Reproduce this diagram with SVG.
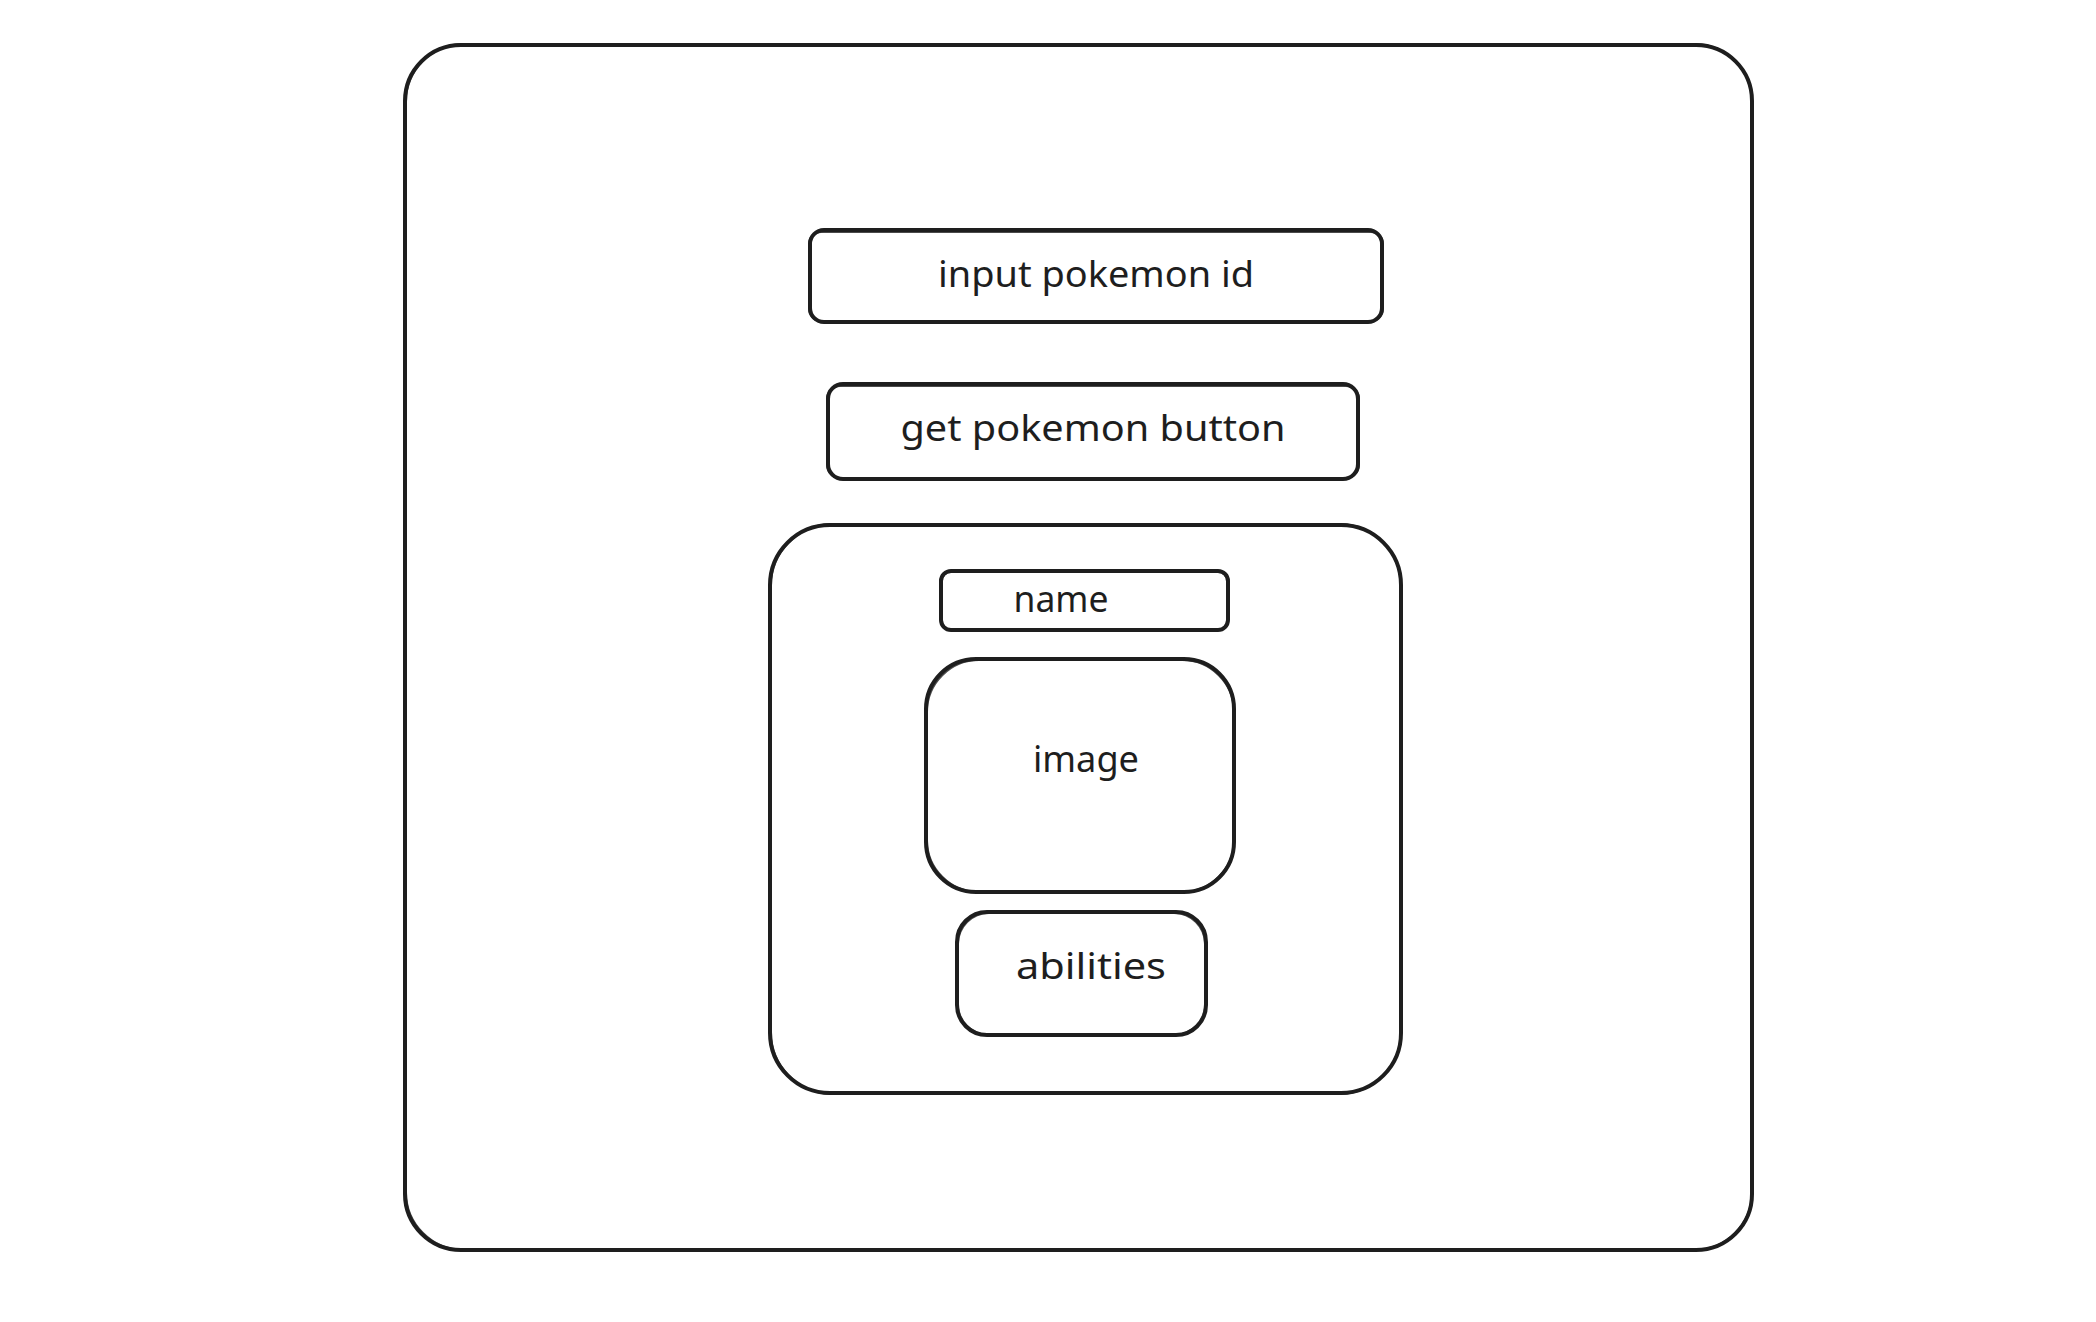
<svg xmlns="http://www.w3.org/2000/svg" width="2096" height="1322" viewBox="0 0 2096 1322">
<style>
.box{fill:none;stroke:#1e1e1e;stroke-width:4;stroke-linejoin:round}
.sk{fill:none;stroke:#1e1e1e;stroke-width:2;opacity:0.8}
.lbl{font-family:"Noto Sans","Liberation Sans",sans-serif;font-size:36px;fill:#1e1e1e;text-anchor:middle}
</style>
<rect width="2096" height="1322" fill="#ffffff"/>
<g id="outer">
<rect class="box" x="405" y="45" width="1347" height="1205" rx="56"/>
<rect class="sk" x="406" y="44" width="1346" height="1206" rx="58"/>
</g>
<g id="input-pokemon-id">
<rect class="box" x="810" y="230" width="572" height="92" rx="14"/>
<rect class="sk" x="809" y="232" width="574" height="89" rx="12"/>
<text class="lbl" x="1096" y="287" textLength="316" lengthAdjust="spacingAndGlyphs">input pokemon id</text>
</g>
<g id="get-pokemon-button">
<rect class="box" x="828" y="384" width="530" height="95" rx="15"/>
<rect class="sk" x="827" y="386" width="532" height="92" rx="13"/>
<text class="lbl" x="1093" y="441" textLength="385" lengthAdjust="spacingAndGlyphs">get pokemon button</text>
</g>
<g id="pokemon-card">
<rect class="box" x="770" y="525" width="631" height="568" rx="60"/>
<rect class="sk" x="771" y="524" width="630" height="570" rx="62"/>
</g>
<g id="name">
<rect class="box" x="941" y="571" width="287" height="59" rx="10"/>
<rect class="sk" x="942" y="572" width="285" height="58" rx="9"/>
<text class="lbl" x="1061" y="612" textLength="95" lengthAdjust="spacingAndGlyphs">name</text>
</g>
<g id="image">
<rect class="box" x="926" y="659" width="308" height="233" rx="50"/>
<rect class="sk" x="927" y="660" width="307" height="232" rx="52"/>
<text class="lbl" x="1086" y="772" textLength="106" lengthAdjust="spacingAndGlyphs">image</text>
</g>
<g id="abilities">
<rect class="box" x="957" y="912" width="249" height="123" rx="30"/>
<rect class="sk" x="958" y="913" width="247" height="122" rx="31"/>
<text class="lbl" x="1091" y="979" textLength="150" lengthAdjust="spacingAndGlyphs">abilities</text>
</g>
<g id="connectors"></g>
</svg>
